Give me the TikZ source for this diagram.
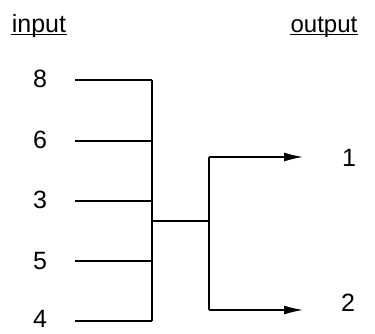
\documentclass[tikz,border=0pt]{standalone}
\usepackage{fontspec}
\setmainfont{Liberation Sans}
\usetikzlibrary{arrows.meta}
\tikzset{>={Latex[length=19pt,width=9pt]}}
\tikzset{lbl/.style={font=\fontsize{25}{28}\selectfont,inner sep=0pt}}
\newcommand{\inleg}[4]{
    \node[lbl] (n#1) at (40,#3) {#4};
    \coordinate (a#1) at (75,#2);
    \coordinate (b#1) at (152,#2);
}

\begin{document}
\begin{tikzpicture}[x=1pt,y=-1pt,line width=1.4pt]
            \useasboundingbox (0,0) rectangle (375,334);
            \node[lbl,anchor=base] (hin) at (39,33) {input};
            \node[lbl,font=\fontsize{24}{28}\selectfont,anchor=base] (hout) at (324,33) {output};
            \draw[line width=1pt] ([yshift=-2pt]hin.base west) -- ([yshift=-2pt]hin.base east);
            \draw[line width=1pt] ([yshift=-2pt]hout.base west) -- ([yshift=-2pt]hout.base east);
            \inleg{1}{80}{79}{8}
            \inleg{2}{141}{140}{6}
            \inleg{3}{201}{200}{3}
            \inleg{4}{261}{261}{5}
            \inleg{5}{321}{319}{4}
            \foreach \k in {1,...,5} \draw (a\k) -- (b\k);
            \draw (b1) -- (b5);
            \coordinate (j) at (152,221);
            \coordinate (s) at (209,221);
            \coordinate (u) at (209,157);
            \coordinate (d) at (209,310);
            \node[lbl] (o1) at (349,158) {1};
            \node[lbl] (o2) at (348,303) {2};
            \draw (j) -- (s);
            \draw (u) -- (d);
            \draw[->] (u) -- (u -| 303,0);
            \draw[->] (d) -- (d -| 303,0);
        \end{tikzpicture}
\end{document}
